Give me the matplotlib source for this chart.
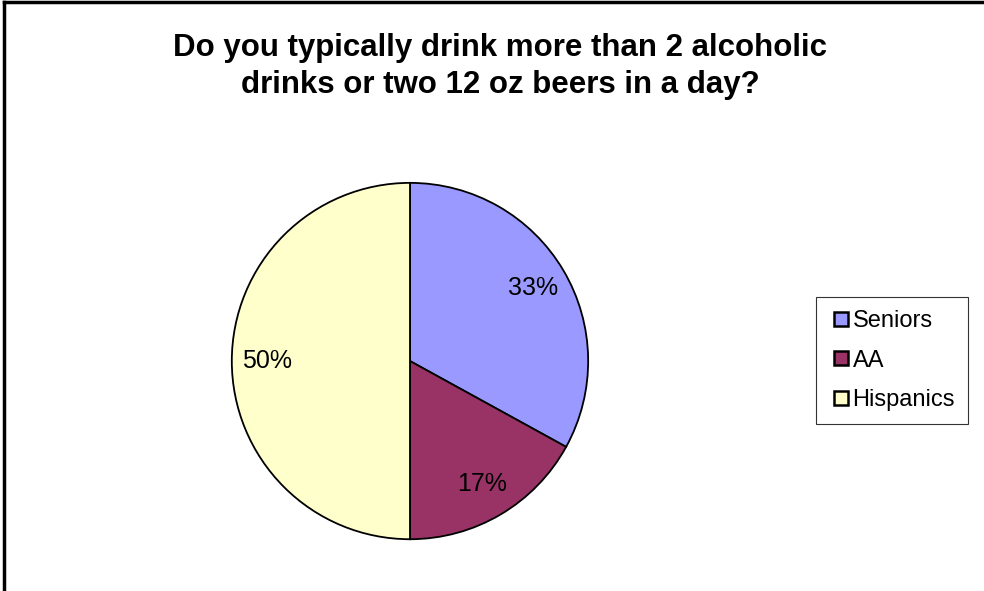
import matplotlib.pyplot as plt
from matplotlib.lines import Line2D

plt.rcParams['font.family'] = ['Liberation Sans', 'DejaVu Sans']

groups = ['Seniors', 'AA', 'Hispanics']
shares = [33, 17, 50]
colors = ['#9999FF', '#993366', '#FFFFCC']
title = 'Do you typically drink more than 2 alcoholic\ndrinks or two 12 oz beers in a day?'

fig = plt.figure(figsize=(9.84, 5.91), dpi=100)

# frame lines visible at top and left of the original
fig.add_artist(Line2D([0.004, 0.004], [0, 0.996], color='black', lw=2.5,
                      transform=fig.transFigure))
fig.add_artist(Line2D([0.004, 1], [0.996, 0.996], color='black', lw=2.5,
                      transform=fig.transFigure))

fig.text(0.508, 0.887, title, ha='center', va='center', fontsize=22.5,
         fontweight='bold', linespacing=1.3)

ax = fig.add_axes([0.2337, 0.0846, 0.3659, 0.609])
wedges, texts, autotexts = ax.pie(
    shares, colors=colors, startangle=90, counterclock=False,
    autopct='%.0f%%', pctdistance=0.8,
    wedgeprops=dict(edgecolor='black', linewidth=1.3),
    textprops=dict(fontsize=18))
ax.set_xlim(-1.01, 1.01)
ax.set_ylim(-1.01, 1.01)
ax.set_aspect('equal')

handles = [Line2D([], [], marker='s', linestyle='none', markersize=10,
                  markerfacecolor=c, markeredgecolor='black', markeredgewidth=1.8)
           for c in colors]
leg = fig.legend(handles, groups, loc='center', bbox_to_anchor=(0.9065, 0.39),
                 fontsize=17, frameon=True, fancybox=False, edgecolor='black',
                 handletextpad=0.0, labelspacing=0.75, borderpad=0.55,
                 handlelength=1.0, borderaxespad=0)
leg.get_frame().set_linewidth(0.8)

fig.savefig('out.png', dpi=100)
